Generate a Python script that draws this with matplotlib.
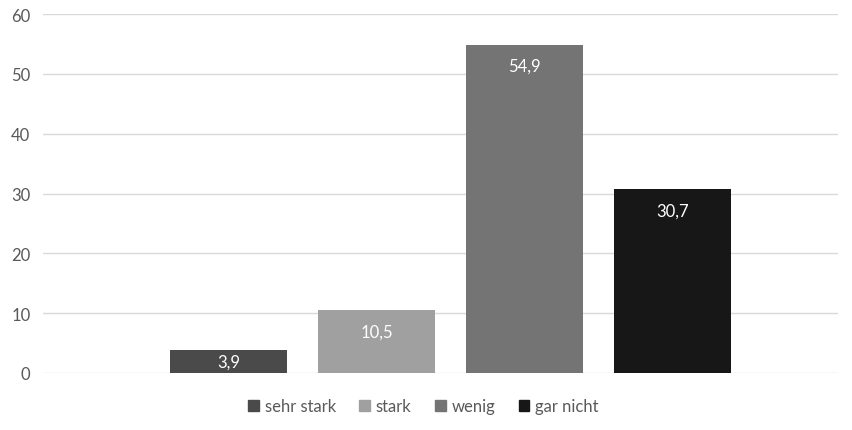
import numpy as np
import matplotlib.pyplot as plt
from matplotlib.patches import Patch

plt.rcParams['font.family'] = ['Lato', 'DejaVu Sans']

categories = ['sehr stark', 'stark', 'wenig', 'gar nicht']
values = [3.9, 10.5, 54.9, 30.7]
labels = ['3,9', '10,5', '54,9', '30,7']
colors = ['#4a4a4a', '#a0a0a0', '#747474', '#171717']

fig = plt.figure(figsize=(8.52, 4.31), dpi=100)
ax = fig.add_axes([43/852, 57/431, 795/852, 359/431])

x = np.arange(len(values))
bars = ax.bar(x, values, width=0.79, color=colors, zorder=3)

# label inside the top end, or centred when the bar is short
for b, v, lab in zip(bars, values, labels):
    y = max(v - 3.6, v / 2)
    ax.text(b.get_x() + b.get_width()/2, y, lab,
            ha='center', va='center', color='white', fontsize=12)

ax.set_xlim(-1.253, 4.118)
ax.set_ylim(0, 60)
ax.set_yticks(range(0, 61, 10))
ax.yaxis.grid(True, color='#d9d9d9', linewidth=1.0, zorder=0)
ax.set_xticks([])
for s in ax.spines.values():
    s.set_visible(False)
ax.tick_params(axis='y', length=0, pad=9, labelcolor='#595959', labelsize=12)

handles = [Patch(color=c, label=n) for c, n in zip(colors, categories)]
fig.legend(handles=handles, loc='center', bbox_to_anchor=(0.497, 1 - 407/431),
           ncol=4, frameon=False, fontsize=12, handlelength=0.65, handleheight=0.65,
           handletextpad=0.35, columnspacing=1.4, labelcolor='#595959')

fig.savefig('out.png', dpi=100)
